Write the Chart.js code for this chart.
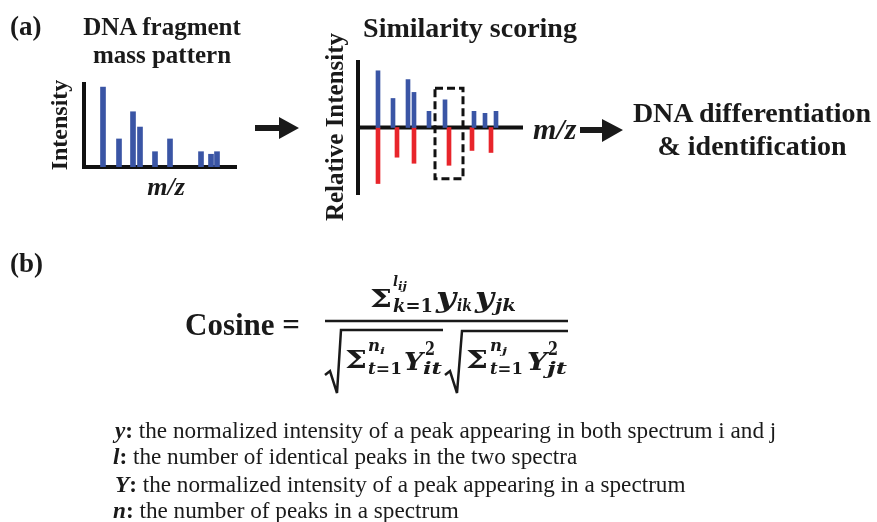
<!DOCTYPE html>
<html>
<head>
<meta charset="utf-8">
<script src="https://cdn.jsdelivr.net/npm/chart.js@4.4.1/dist/chart.umd.min.js"></script>
<style>
  html, body { margin: 0; padding: 0; background: #ffffff; }
  #wrap { position: relative; width: 877px; height: 522px; overflow: hidden; background: #fff; }
  canvas { position: absolute; }
  #overlay { position: absolute; left: 0; top: 0; pointer-events: none; }
  #overlay text { font-family: "Liberation Serif", "Times New Roman", serif; fill: #1a1a1a; }
  #overlay text.m { font-family: "DejaVu Serif", serif; font-weight: bold; font-style: italic; }
  #overlay text.mu { font-family: "DejaVu Serif", serif; font-weight: bold; }
</style>
</head>
<body>
<div id="wrap">
  <canvas id="left" width="162" height="94" style="left:80px;top:78px;"></canvas>
  <canvas id="mid" width="173" height="143" style="left:354px;top:56px;"></canvas>
  <svg id="overlay" width="877" height="522" xmlns="http://www.w3.org/2000/svg">
    <!-- panel (a) -->
    <text x="10" y="35" font-size="27" font-weight="bold">(a)</text>
    <text x="162" y="35" font-size="25" font-weight="bold" text-anchor="middle">DNA fragment</text>
    <text x="162" y="63" font-size="25" font-weight="bold" text-anchor="middle">mass pattern</text>
    <text transform="translate(67,125) rotate(-90)" font-size="24" font-weight="bold" text-anchor="middle">Intensity</text>
    <text x="166" y="195" font-size="26" font-weight="bold" font-style="italic" text-anchor="middle">m/z</text>

    <text x="470" y="37" font-size="28" font-weight="bold" text-anchor="middle">Similarity scoring</text>
    <text transform="translate(343,127) rotate(-90)" font-size="25" font-weight="bold" text-anchor="middle">Relative Intensity</text>
    <text x="533" y="139" font-size="30" font-weight="bold" font-style="italic">m/z</text>

    <text x="752" y="122" font-size="28" font-weight="bold" text-anchor="middle">DNA differentiation</text>
    <text x="752" y="155" font-size="28" font-weight="bold" text-anchor="middle">&amp; identification</text>

    <!-- arrows -->
    <path d="M255 125 L279 125 L279 117 L299 128 L279 139 L279 131 L255 131 Z" fill="#1a1a1a"/>
    <path d="M580 127 L602 127 L602 119 L623 130 L602 142 L602 133 L580 133 Z" fill="#1a1a1a"/>

    <!-- panel (b) -->
    <text x="10" y="272" font-size="27" font-weight="bold">(b)</text>
    <text x="185" y="335" font-size="31" font-weight="bold">Cosine =</text>

    <!-- numerator -->
    <text class="mu" x="370" y="307" font-size="24" textLength="22" lengthAdjust="spacingAndGlyphs">Σ</text>
    <text class="m" x="393" y="286" font-size="14" textLength="5" lengthAdjust="spacingAndGlyphs">l</text>
    <text class="m" x="398" y="290" font-size="11" textLength="9" lengthAdjust="spacingAndGlyphs">ij</text>
    <text class="mu" x="393" y="312" font-size="18" textLength="40" lengthAdjust="spacingAndGlyphs"><tspan font-style="italic">k</tspan>=1</text>
    <text class="m" x="436" y="307" font-size="28" textLength="20" lengthAdjust="spacingAndGlyphs">y</text>
    <text class="m" x="457" y="311" font-size="16" textLength="15" lengthAdjust="spacingAndGlyphs">ik</text>
    <text class="m" x="475" y="307" font-size="28" textLength="19" lengthAdjust="spacingAndGlyphs">y</text>
    <text class="m" x="495" y="311" font-size="16" textLength="21" lengthAdjust="spacingAndGlyphs">jk</text>

    <line x1="325" y1="321" x2="568" y2="321" stroke="#1a1a1a" stroke-width="2.5"/>

    <!-- denominator: first root -->
    <path d="M325 375 L330 371 L337 393 L341 330 L443 330" fill="none" stroke="#1a1a1a" stroke-width="2.5" stroke-linejoin="miter"/>
    <text class="mu" x="345" y="368" font-size="24" textLength="22" lengthAdjust="spacingAndGlyphs">Σ</text>
    <text class="m" x="368" y="351" font-size="17" textLength="12" lengthAdjust="spacingAndGlyphs">n</text>
    <text class="m" x="380" y="354" font-size="10" textLength="5" lengthAdjust="spacingAndGlyphs">i</text>
    <text class="mu" x="368" y="374" font-size="16" textLength="34" lengthAdjust="spacingAndGlyphs"><tspan font-style="italic">t</tspan>=1</text>
    <text class="m" x="404" y="370" font-size="25" textLength="19" lengthAdjust="spacingAndGlyphs">Y</text>
    <text class="mu" x="425" y="355" font-size="18" textLength="10" lengthAdjust="spacingAndGlyphs">2</text>
    <text class="m" x="423" y="374" font-size="16" textLength="19" lengthAdjust="spacingAndGlyphs">it</text>

    <!-- denominator: second root -->
    <path d="M445 375 L450 371 L457 393 L462 331 L568 331" fill="none" stroke="#1a1a1a" stroke-width="2.5" stroke-linejoin="miter"/>
    <text class="mu" x="466" y="368" font-size="24" textLength="22" lengthAdjust="spacingAndGlyphs">Σ</text>
    <text class="m" x="490" y="351" font-size="17" textLength="12" lengthAdjust="spacingAndGlyphs">n</text>
    <text class="m" x="502" y="354" font-size="10" textLength="5" lengthAdjust="spacingAndGlyphs">j</text>
    <text class="mu" x="490" y="374" font-size="16" textLength="33" lengthAdjust="spacingAndGlyphs"><tspan font-style="italic">t</tspan>=1</text>
    <text class="m" x="527" y="370" font-size="25" textLength="20" lengthAdjust="spacingAndGlyphs">Y</text>
    <text class="mu" x="548" y="355" font-size="18" textLength="10" lengthAdjust="spacingAndGlyphs">2</text>
    <text class="m" x="547" y="374" font-size="16" textLength="20" lengthAdjust="spacingAndGlyphs">jt</text>

    <!-- definitions -->
    <text x="115" y="438" font-size="23.2"><tspan font-weight="bold" font-style="italic">y</tspan><tspan font-weight="bold">:</tspan> the normalized intensity of a peak appearing in both spectrum i and j</text>
    <text x="113" y="464" font-size="23.2"><tspan font-weight="bold" font-style="italic">l</tspan><tspan font-weight="bold">:</tspan> the number of identical peaks in the two spectra</text>
    <text x="115" y="492" font-size="23.2"><tspan font-weight="bold" font-style="italic">Y</tspan><tspan font-weight="bold">:</tspan> the normalized intensity of a peak appearing in a spectrum</text>
    <text x="113" y="518" font-size="23.2"><tspan font-weight="bold" font-style="italic">n</tspan><tspan font-weight="bold">:</tspan> the number of peaks in a spectrum</text>
  </svg>
</div>
<script>
// ---- data (m/z positions in arbitrary units, intensities in % of axis height) ----
const leftMz        = [19, 35, 49, 56, 71, 86, 117, 127, 133];
const leftIntensity = [94, 33, 65, 47, 18, 33, 18, 15, 18];

const sampleMz        = [20, 35, 50, 56, 71, 87, 116, 127, 138];
const sampleIntensity = [84, 43, 71, 52, 24, 41, 24, 21, 24];
const refMz           = [20, 39, 56, 91, 114, 133];
const refIntensity    = [-83, -44, -53, -56, -34, -37];

const highlightBox = { xMin: 77, xMax: 105, yMin: -76, yMax: 58 };

const BLUE = '#3a55a5';
const RED = '#e8252b';
const INK = '#111111';

function pts(xs, ys) { return xs.map((x, i) => ({ x: x, y: ys[i] })); }

// plugin: draws axis lines through the origin using the scales
const axesPlugin = {
  id: 'axesLines',
  beforeDatasetsDraw(chart, args, opts) {
    const { ctx, chartArea: a, scales: { x, y } } = chart;
    const y0 = y.getPixelForValue(0);
    ctx.save();
    ctx.strokeStyle = INK;
    ctx.lineWidth = 4;
    ctx.lineCap = 'butt';
    ctx.beginPath();
    ctx.moveTo(a.left, a.top);
    ctx.lineTo(a.left, a.bottom + (opts.extendY || 0));
    ctx.stroke();
    ctx.beginPath();
    ctx.moveTo(a.left - 2, y0);
    ctx.lineTo(a.right, y0);
    ctx.stroke();
    ctx.restore();
  }
};

// plugin: dashed highlight box in data units
const boxPlugin = {
  id: 'dashBox',
  afterDatasetsDraw(chart, args, opts) {
    if (!opts.box) return;
    const { ctx, scales: { x, y } } = chart;
    const b = opts.box;
    const x1 = x.getPixelForValue(b.xMin), x2 = x.getPixelForValue(b.xMax);
    const y1 = y.getPixelForValue(b.yMax), y2 = y.getPixelForValue(b.yMin);
    ctx.save();
    ctx.strokeStyle = INK;
    ctx.lineWidth = 3;
    ctx.setLineDash([8, 4]);
    ctx.strokeRect(x1, y1, x2 - x1, y2 - y1);
    ctx.restore();
  }
};

const common = {
  responsive: false,
  animation: false,
  devicePixelRatio: 1,
  events: [],
  plugins: { legend: { display: false }, tooltip: { enabled: false } },
};

new Chart(document.getElementById('left'), {
  type: 'bar',
  data: {
    datasets: [{
      data: pts(leftMz, leftIntensity),
      backgroundColor: BLUE,
      barThickness: 5,
      grouped: false
    }]
  },
  options: Object.assign({}, common, {
    layout: { padding: { left: 4, top: 4, right: 5, bottom: 5 } },
    scales: {
      x: { type: 'linear', min: 0, max: 153, offset: false, display: false },
      y: { min: 0, max: 100, display: false }
    },
    plugins: Object.assign({}, common.plugins, { axesLines: { extendY: 2 } })
  }),
  plugins: [axesPlugin]
});

new Chart(document.getElementById('mid'), {
  type: 'bar',
  data: {
    datasets: [
      { data: pts(sampleMz, sampleIntensity), backgroundColor: BLUE, barThickness: 4, grouped: false },
      { data: pts(refMz, refIntensity), backgroundColor: RED, barThickness: 4, grouped: false }
    ]
  },
  options: Object.assign({}, common, {
    layout: { padding: { left: 4, top: 4, right: 4, bottom: 4 } },
    scales: {
      x: { type: 'linear', min: 0, max: 165, offset: false, display: false },
      y: { min: -100, max: 100, display: false }
    },
    plugins: Object.assign({}, common.plugins, { axesLines: { extendY: 0 }, dashBox: { box: highlightBox } })
  }),
  plugins: [axesPlugin, boxPlugin]
});
</script>
</body>
</html>
